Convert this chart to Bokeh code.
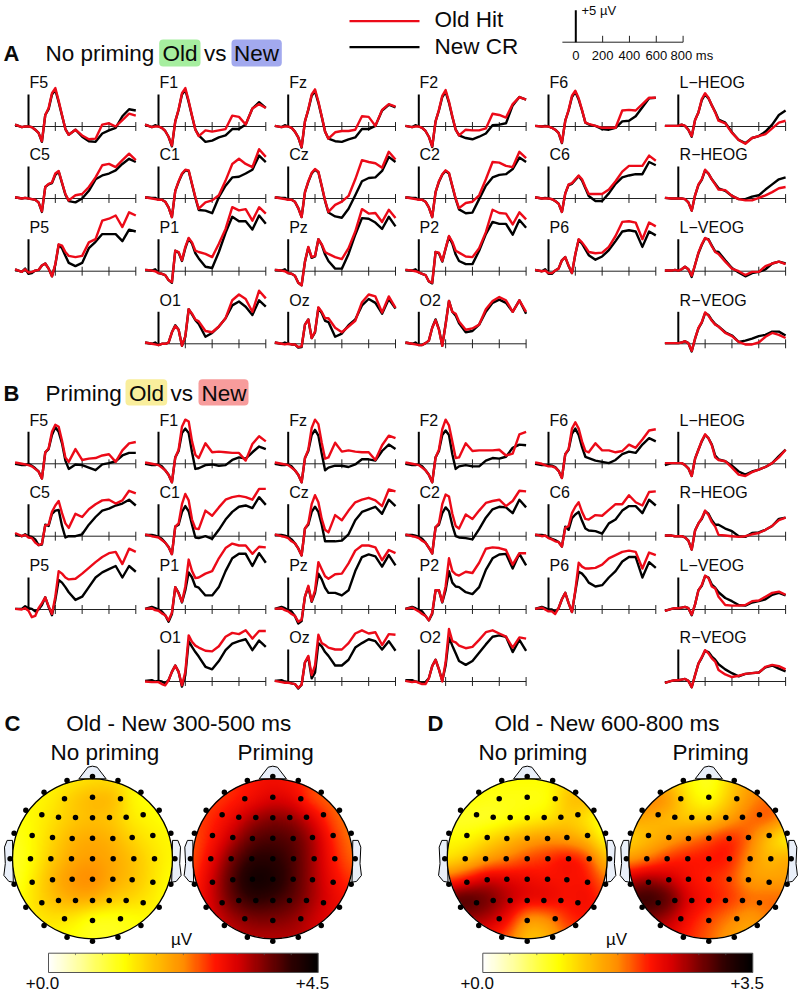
import numpy as np
from bokeh.core.properties import value
from bokeh.embed import file_html
from bokeh.models import BoxAnnotation, LinearColorMapper, Range1d
from bokeh.plotting import figure
from bokeh.resources import INLINE

TIME_MS = [-100,-50,-25,0,25,50,75,100,125,150,175,200,225,250,275,300,350,400,450,500,550,600,650,700,750,800]

# ---------- Panel A, No priming (uV) ----------
A_F5_OLD = [.3,-.1,0,0,-.1,-.5,-1.0,-2.3,1.8,2.9,5.2,6.0, 4.0,1.8,-.4,-1.3, -.5,-1.4,-2.0,-1.9,.3,.5,0,1.0,2.0,1.7]
A_F5_NEW = [.3,-.1,0,0,-.1,-.5,-1.0,-2.4,1.8,2.7,5.0,5.7, 3.8,1.7,-.4,-1.3, -.5,-1.6,-2.3,-2.4,-1.1,-.6,-.2,1.6,2.7,2.5]
A_F1_OLD = [.3,-.1,0,0,-.2,-.7,-1.6,-3.0,.8,2.7,5.2,6.0, 4.0,1.7,-.5,-1.5, -.6,-.8,-.6,-.4,1.7,1.5,.3,2.8,3.5,2.9]
A_F1_NEW = [.3,-.1,.2,0,-.2,-.7,-1.6,-3.1,.8,2.6,5.0,5.7, 3.8,1.6,-.5,-1.4, -2.4,-2.2,-1.7,-1.4,-.4,-.4,.3,2.8,3.8,2.9]
A_FZ_OLD = [.1,-.1,0,0,-.2,-.8,-1.7,-3.2,.8,2.7,5.0,5.8, 3.9,1.6,-.8,-1.9, -.9,-.7,-.7,-.5,1.6,1.5,.1,2.6,3.5,3.1]
A_FZ_NEW = [.1,-.1,.2,0,-.2,-.8,-1.7,-3.3,.8,2.6,4.8,5.5, 3.7,1.5,-.8,-1.9, -2.3,-2.4,-2.0,-1.7,-.4,-.4,.1,2.5,3.4,3.0]
A_F2_OLD = [.1,-.1,0,0,-.2,-.7,-1.6,-3.1,.8,2.6,4.8,5.7, 3.9,1.6,-.5,-1.4, -.5,-.6,-.6,-.3,2.0,1.8,1.4,3.5,4.6,4.2]
A_F2_NEW = [.1,-.1,.2,0,-.2,-.7,-1.6,-3.2,.8,2.5,4.6,5.4, 3.7,1.5,-.5,-1.4, -1.8,-2.0,-1.6,-1.1,.2,.3,.5,3.3,4.6,4.2]
A_F6_OLD = [.1,0,0,0,-.2,-.5,-1.0,-2.5,.9,2.6,4.8,5.6, 4.4,2.6,.6,.4, .1,-.2,-.2,-.2,2.5,2.6,2.5,3.5,4.5,4.5]
A_F6_NEW = [.1,0,.1,0,-.2,-.5,-1.0,-2.6,.9,2.5,4.6,5.4, 4.2,2.5,.6,.3, .1,-.4,-.5,-.2,.8,.9,1.6,3.0,4.4,4.5]
A_LH_OLD = [.1,.1,.1,.1,.3,.1,-.5,-1.5,1.0,2.2,4.3,5.2, 4.5,3.3,2.2,.9, .5,-1.0,-2.1,-2.7,-1.8,-1.5,-1.2,-.3,.6,.9]
A_LH_NEW = [.1,.1,.1,.1,.3,.1,-.5,-1.6,1.0,2.2,4.1,5.0, 4.4,3.3,2.3,1.1, .6,-.9,-2.1,-2.6,-1.8,-1.5,-.8,.3,1.8,2.5]
A_C5_OLD = [.2,0,.1,0,-.1,-.2,-.6,-2.0,1.8,2.3,2.5,3.9, 4.3,2.5,.7,-.3, .5,.7,1.8,3.3,5.2,5.4,4.9,6.0,7.0,6.0]
A_C5_NEW = [.2,0,.1,0,-.1,-.2,-.6,-2.1,1.8,2.2,2.4,3.7, 4.2,2.4,.6,-.4, -.6,0,1.2,3.0,3.6,3.9,4.4,5.4,6.2,5.7]
A_C1_OLD = [.2,0,-.1,-.2,-.2,-.5,-1.4,-2.9,1.2,2.7,3.9,4.5, 4.4,2.3,.2,-1.6, -.6,-.3,.5,2.8,5.4,6.2,5.4,4.9,7.7,6.5]
A_C1_NEW = [.2,.1,.1,-.2,-.2,-.5,-1.4,-2.9,1.2,2.6,3.8,4.4, 4.3,2.2,.1,-1.8, -1.9,-2.3,.2,2.0,3.3,3.4,3.9,4.5,6.7,5.7]
A_CZ_OLD = [.2,0,-.1,-.2,-.2,-.5,-1.5,-2.9,1.0,2.7,4.0,4.6, 4.2,2.0,-.3,-2.1, -1.0,-.5,.4,3.0,6.0,5.7,5.5,4.8,7.3,6.1]
A_CZ_NEW = [.2,.1,.1,-.2,-.2,-.5,-1.5,-2.9,1.0,2.6,3.9,4.5, 4.1,1.9,-.4,-2.2, -2.8,-3.0,-1.6,.5,2.7,3.2,3.3,4.3,6.5,5.7]
A_C2_OLD = [.2,0,-.1,-.2,-.2,-.5,-1.4,-2.9,1.0,2.7,3.8,4.4, 4.0,2.0,0,-1.5, -.7,-.5,.5,3.0,5.7,5.6,5.1,4.9,7.3,6.3]
A_C2_NEW = [.2,.1,.1,-.2,-.2,-.5,-1.4,-2.9,1.0,2.6,3.7,4.3, 3.9,1.9,-.1,-1.7, -2.3,-2.2,-.1,2.0,3.3,3.7,3.8,4.6,6.4,5.7]
A_C6_OLD = [.2,0,0,0,-.1,-.4,-.8,-2.1,.8,2.2,2.4,3.0, 3.6,3.0,1.8,.7, .7,.7,1.4,2.7,4.2,5.1,5.1,5.1,6.7,5.9]
A_C6_NEW = [.2,0,.1,0,-.1,-.4,-.8,-2.1,.8,2.1,2.3,2.9, 3.5,2.8,1.6,.4, -.4,-.4,.8,2.3,3.3,3.6,3.8,3.8,5.7,5.2]
A_RH_OLD = [.1,0,0,0,0,-.1,-.6,-1.9,.5,2.2,3.0,4.5, 3.9,3.0,2.2,1.4, 1.3,.4,-.1,-.3,-.3,.1,.5,1.0,1.6,1.8]
A_RH_NEW = [.1,0,0,0,0,-.1,-.6,-1.9,.5,2.1,2.9,4.4, 3.9,3.0,2.3,1.6, 1.2,.4,-.1,-.1,.3,.5,1.4,2.2,3.0,3.3]
A_P5_OLD = [.3,-.1,.3,-.2,-.1,.1,.2,.9,1.2,.4,-.8,1.1, 4.2,4.0,3.0,2.4, 2.2,2.4,4.5,5.0,7.9,8.2,8.7,6.9,9.2,8.7]
A_P5_NEW = [.3,-.1,.4,-.4,-.3,.1,.2,.9,1.2,.4,-.8,1.0, 4.1,3.6,2.4,1.3, .8,1.3,3.6,4.6,5.8,5.8,5.8,4.7,6.5,6.2]
A_P1_OLD = [.2,.1,0,-.3,-.4,-.6,-1.4,-1.7,3.2,3.0,1.7,3.8, 5.2,4.5,3.2,3.0, 2.7,2.2,4.3,6.6,10.0,9.5,9.7,7.9,10.0,9.0]
A_P1_NEW = [.2,.1,.3,-.3,-.4,-.6,-1.4,-1.8,3.2,2.9,1.6,3.6, 5.1,4.3,2.8,2.0, .7,.5,3.0,6.0,8.5,7.8,7.8,6.5,8.7,7.4]
A_PZ_OLD = [.2,.1,0,-.3,-.4,-.7,-1.8,-2.2,1.5,3.8,2.2,2.4, 5.0,4.2,3.0,2.7, 2.2,1.9,3.6,6.2,9.7,9.0,9.1,7.7,9.6,8.3]
A_PZ_NEW = [.2,.1,.3,-.3,-.4,-.7,-1.8,-2.2,1.5,3.7,2.1,2.3, 5.0,4.1,2.6,1.6, .4,.4,2.7,5.7,8.3,8.2,7.6,6.6,8.5,7.0]
A_P2_OLD = [.2,.1,0,-.2,-.4,-.6,-1.6,-1.8,3.0,2.9,1.6,3.6, 5.5,4.6,3.2,2.9, 2.3,2.2,3.6,6.1,9.6,9.1,9.0,7.3,9.2,8.1]
A_P2_NEW = [.2,.1,.3,-.2,-.4,-.6,-1.6,-1.9,3.0,2.8,1.5,3.5, 5.4,4.3,2.6,1.6, 1.1,1.1,3.2,5.8,7.7,7.4,7.4,5.7,8.0,6.8]
A_P6_OLD = [.2,0,.1,-.3,-.3,.1,.4,1.7,2.2,.9,-.3,2.7, 5.0,4.5,3.8,3.0, 2.8,2.9,3.8,5.5,7.7,7.8,7.6,5.0,7.6,7.0]
A_P6_NEW = [.2,0,.3,-.4,-.4,.1,.4,1.7,2.2,.8,-.3,2.6, 4.9,4.3,3.4,2.5, 1.8,2.3,3.3,4.7,6.2,6.4,6.2,3.8,6.2,5.6]
A_LV_OLD = [.1,.1,.2,.1,.3,.7,.3,-.7,1.0,2.9,4.2,5.2, 4.9,3.9,3.0,2.7, 1.5,.4,0,-.6,-.1,-.1,.8,1.2,1.5,1.1]
A_LV_NEW = [.1,.1,.2,.1,.3,.7,.3,-.9,1.0,2.8,4.1,5.1, 5.0,4.0,3.1,3.0, 1.7,.5,-.2,-.8,-.3,-.1,.3,1.2,1.5,1.2]
A_O1_OLD = [.2,0,-.1,-.2,0,0,.2,1.8,2.8,2.2,-.3,1.2, 5.4,4.7,3.8,3.5, 2.0,1.8,2.7,4.0,6.8,7.7,7.0,5.0,8.3,7.1]
A_O1_NEW = [.2,0,.2,-.2,0,0,.2,1.8,2.9,2.2,-.3,1.1, 5.4,4.6,3.7,3.1, 1.1,1.7,2.7,4.0,6.0,6.6,5.8,4.5,6.8,5.8]
A_OZ_OLD = [.2,0,-.1,0,-.1,-.1,-.5,-.4,3.0,3.8,.9,1.9, 5.7,5.0,4.0,4.0, 2.5,1.8,2.7,3.6,6.5,7.7,7.4,4.9,7.4,5.6]
A_OZ_NEW = [.2,0,.2,0,-.1,-.1,-.6,-.5,3.0,3.8,.9,1.8, 5.6,4.8,3.6,3.4, 1.1,1.6,2.9,3.8,6.0,7.0,6.4,4.7,7.0,5.5]
A_O2_OLD = [.2,0,-.1,-.2,-.2,.1,.5,2.5,3.7,2.2,-.3,3.0, 6.7,5.0,4.7,3.5, 2.2,2.4,3.0,5.4,6.7,7.3,6.8,5.0,6.8,5.0]
A_O2_NEW = [.2,0,.2,-.2,-.2,.1,.5,2.5,3.8,2.3,-.3,3.1, 6.7,5.0,4.4,3.2, 1.8,2.0,3.0,5.0,6.4,6.9,6.4,5.0,6.8,4.7]
A_RV_OLD = [.1,.1,.1,.1,.2,.4,.1,-1.1,.8,2.5,3.4,4.9, 4.4,3.6,3.0,2.7, 1.7,1.2,.3,-.1,-.1,.2,1.1,1.7,1.4,.9]
A_RV_NEW = [.1,.1,.1,.1,.2,.4,.1,-1.2,.8,2.4,3.3,4.8, 4.5,3.7,3.1,2.7, 1.8,1.3,.3,.5,.8,1.2,1.4,1.9,1.9,1.3]

# ---------- Panel B, Priming (uV) ----------
B_F5_OLD = [.2,0,-.1,-.2,-.4,-.8,-1.2,-2.3,1.8,2.4,5.0,6.1, 5.8,3.6,1.0,.3, 2.3,.6,.8,.9,1.3,1.5,.3,2.1,3.2,3.4]
B_F5_NEW = [0,-.2,-.2,0,-.3,-.7,-1.2,-2.3,1.8,2.3,4.5,5.7, 5.0,3.2,.5,-.8, -.1,-.2,-.6,-1.0,-.1,.1,.4,1.3,1.7,1.7]
B_F1_OLD = [.2,0,-.1,-.2,-.6,-1.0,-1.7,-2.9,1.0,2.2,5.8,6.9, 6.6,3.5,1.4,.9, 3.2,1.8,1.9,1.8,1.7,1.7,.5,3.1,4.3,3.5]
B_F1_NEW = [0,-.2,-.2,-.1,-.4,-1.0,-1.7,-2.9,1.0,2.0,4.8,5.5, 4.8,1.8,-.8,-.7, -.2,-.1,-.3,-.2,.6,1.0,.8,1.8,2.7,2.3]
B_FZ_OLD = [.2,0,-.1,-.2,-.6,-1.0,-1.7,-2.9,.9,2.2,5.6,6.9, 6.2,3.3,.8,1.0, 3.3,1.9,2.1,1.9,1.8,1.8,.6,2.9,4.4,4.0]
B_FZ_NEW = [0,-.2,-.2,-.1,-.4,-1.0,-1.7,-2.9,.9,2.0,4.5,5.3, 4.4,1.6,-1.0,-.6, -.3,-.3,-.5,-.1,.7,.7,.5,2.0,3.0,2.3]
B_F2_OLD = [.2,0,-.1,-.2,-.6,-1.0,-1.7,-2.9,1.0,2.2,5.4,6.9, 6.0,3.5,.9,1.0, 3.2,2.0,2.1,2.1,2.1,2.2,1.3,1.6,4.6,5.0]
B_F2_NEW = [0,-.2,-.2,-.1,-.4,-1.0,-1.7,-2.9,1.0,2.0,4.5,5.2, 4.5,1.5,-.8,-.4, -.2,-.4,-.4,.5,.9,.8,1.1,2.5,3.0,2.9]
B_F6_OLD = [.2,0,-.2,-.4,-.4,-.6,-1.1,-2.2,1.5,2.3,5.5,6.5, 5.5,3.5,2.0,1.8, 3.2,2.1,2.1,1.8,2.0,3.0,2.5,3.8,5.2,5.4]
B_F6_NEW = [0,-.2,-.2,-.2,-.3,-.5,-1.1,-2.2,1.5,2.2,4.7,5.5, 4.5,2.6,1.1,.9, .5,.3,.1,.6,1.5,1.9,1.7,3.0,4.0,3.5]
B_LH_OLD = [.1,.1,.1,.1,.1,-.2,-.7,-1.9,.8,2.2,3.6,4.6, 4.0,2.9,1.0,.6, .4,-.6,-1.7,-1.9,-1.3,-.9,-.5,.1,1.0,2.2]
B_LH_NEW = [-.2,.1,.1,.1,.1,-.2,-.7,-1.9,.8,2.2,3.5,4.5, 4.0,3.0,1.3,.7, .4,-.3,-1.2,-1.7,-1.2,-.9,-.5,.1,1.2,2.2]
B_C5_OLD = [.5,0,.2,-.2,-.3,-1.0,-1.4,-1.2,1.7,1.8,3.8,4.8, 5.5,3.6,2.0,1.3, 3.5,3.0,4.2,5.0,5.6,5.7,5.1,5.6,7.1,6.7]
B_C5_NEW = [.3,0,.3,0,-.1,-.5,-1.4,-1.3,1.8,1.6,3.5,4.0, 4.1,1.6,-.2,0, 0,.3,1.8,3.0,4.0,4.3,4.8,5.1,5.7,4.8]
B_C1_OLD = [.3,0,-.1,-.2,-.6,-1.0,-1.7,-2.8,1.5,2.0,5.0,6.6, 5.6,2.6,1.2,1.1, 4.0,3.2,4.5,5.7,6.1,6.3,6.1,5.7,7.4,7.4]
B_C1_NEW = [.2,.2,.1,-.1,-.4,-1.0,-1.7,-2.8,1.5,1.8,3.8,4.7, 3.9,1.8,-.2,-.3, 0,-.4,1.0,2.6,3.8,4.6,4.8,4.4,6.1,4.9]
B_CZ_OLD = [.3,0,-.1,-.3,-.8,-1.1,-1.9,-3.0,1.2,2.0,5.0,6.4, 5.3,2.7,1.0,.6, 3.3,2.5,4.0,5.3,5.7,6.0,5.6,4.7,7.3,7.0]
B_CZ_NEW = [.2,.2,.1,-.1,-.5,-1.1,-1.9,-3.0,1.2,1.8,3.8,4.6, 3.8,1.8,-.8,-.8, -.8,-.7,.3,2.5,3.8,4.2,4.6,3.5,5.7,4.7]
B_C2_OLD = [.3,0,-.1,-.3,-.7,-1.0,-1.8,-2.7,1.4,2.0,5.0,6.5, 6.2,3.5,1.6,1.2, 3.4,2.7,4.0,5.2,5.5,5.7,4.7,5.5,7.1,7.0]
B_C2_NEW = [.2,.2,.1,-.1,-.4,-1.0,-1.8,-2.7,1.4,1.8,3.6,4.5, 3.9,1.7,0,-.2, -.3,-.5,1.1,2.9,4.2,4.6,4.5,3.6,5.7,4.5]
B_C6_OLD = [.3,0,.1,-.3,-.5,-.8,-.9,-1.6,1.3,1.6,3.6,4.6, 5.3,3.8,2.7,2.6, 3.3,3.2,4.1,5.0,5.0,6.4,5.3,4.8,6.9,7.0]
B_C6_NEW = [.2,.2,.1,-.2,-.4,-.6,-.9,-1.6,1.5,1.0,2.8,3.4, 3.8,2.4,1.2,.9, .8,.4,2.0,2.6,4.0,4.7,4.7,3.6,5.7,4.8]
B_RH_OLD = [.1,.1,0,0,0,-.2,-.7,-2.1,.9,2.0,2.8,4.0, 3.3,2.2,1.5,.2, .1,0,-.1,0,.3,.5,1.0,1.6,2.5,2.9]
B_RH_NEW = [.1,.1,0,0,0,-.2,-.7,-2.1,.9,2.0,2.7,3.9, 3.5,2.5,1.8,1.8, 1.2,.8,0,-.1,.5,.6,1.0,1.6,2.7,2.9]
B_P5_OLD = [.1,0,.2,-.2,-1.2,-1.0,.2,1.0,1.9,.5,-.7,2.0, 6.0,5.6,5.0,4.7, 4.8,5.6,6.5,7.4,8.2,8.8,9.0,7.1,9.5,9.0]
B_P5_NEW = [.1,.1,.5,.2,.1,-.3,0,.7,1.9,.4,-.9,1.5, 4.6,4.2,3.5,2.7, 1.5,2.0,3.5,5.0,5.8,6.3,6.8,5.0,6.8,5.9]
B_P1_OLD = [.1,.2,-.1,-.2,-.6,-.9,-1.7,-.5,3.5,2.5,1.2,3.6, 7.8,6.0,4.9,5.0, 5.6,6.0,8.0,9.6,10.3,10.0,10.0,8.7,9.8,9.7]
B_P1_NEW = [.1,.4,.2,0,-.3,-.9,-1.9,-.7,3.5,2.6,1.1,3.0, 5.8,5.0,3.6,3.4, 2.2,2.2,3.5,6.0,8.0,8.7,8.7,6.8,8.8,7.3]
B_PZ_OLD = [.1,.2,-.1,-.3,-.7,-1.0,-1.9,-1.6,2.0,3.7,1.3,3.0, 7.4,6.3,5.2,4.8, 5.5,5.6,7.2,9.2,10.0,10.0,9.7,7.7,9.3,8.8]
B_PZ_NEW = [.1,.4,.2,-.1,-.3,-1.0,-2.2,-1.8,2.0,3.5,1.2,2.6, 5.6,4.7,3.4,2.6, 2.6,2.2,3.0,6.0,8.2,8.6,8.3,6.7,8.5,6.9]
B_P2_OLD = [.1,.3,0,-.3,-.7,-1.0,-1.7,-.5,3.0,3.0,1.2,3.6, 8.0,6.0,5.5,5.3, 5.9,5.7,7.3,9.5,9.7,9.6,9.3,7.0,8.8,8.8]
B_P2_NEW = [.1,.4,.2,-.1,-.3,-1.0,-1.7,-.7,3.0,3.0,1.1,3.0, 6.0,4.2,3.6,3.5, 2.7,2.4,3.5,6.2,8.0,8.6,8.7,6.4,8.7,6.9]
B_P6_OLD = [.1,.3,0,-.3,-.3,-.7,.2,1.6,2.6,1.0,-.4,3.0, 7.3,6.7,6.4,6.4, 6.5,7.0,8.0,8.5,9.0,9.2,9.0,6.4,8.9,8.5]
B_P6_NEW = [.1,.4,.2,0,0,-.4,.2,1.6,2.6,1.0,-.4,2.8, 5.9,5.6,5.0,4.2, 3.6,3.8,5.0,6.0,7.5,8.2,8.2,5.0,7.4,6.5]
B_LV_OLD = [-.2,.1,.2,.2,.3,.4,.2,-.8,.8,3.0,3.8,5.3, 4.9,3.6,3.3,2.0, .7,.6,.6,.7,1.3,1.4,2.0,2.6,2.8,2.3]
B_LV_NEW = [-.2,.1,.2,.2,.3,.4,.2,-.9,.8,3.0,3.7,5.2, 5.0,3.9,3.4,2.7, 1.8,1.3,.7,.6,1.1,1.3,1.6,2.3,2.6,2.2]
B_O1_OLD = [0,-.1,-.1,-.1,-.4,-.6,.2,1.5,2.5,1.5,-.6,1.5, 7.2,6.2,5.6,5.3, 4.8,4.7,5.5,7.0,7.6,7.4,8.0,6.7,7.9,7.9]
B_O1_NEW = [.1,.2,0,.1,0,-.3,.2,1.5,2.5,1.5,-.8,1.0, 6.3,5.4,4.6,3.9, 2.3,1.9,3.2,4.9,5.9,6.3,6.6,4.9,6.4,5.4]
B_OZ_OLD = [.1,-.1,-.2,-.2,-.3,-.4,-1.0,-.5,3.0,4.0,1.0,2.5, 7.3,6.0,5.7,5.3, 5.0,5.0,6.0,7.5,8.0,7.5,7.7,5.7,7.4,7.3]
B_OZ_NEW = [.1,.2,0,-.1,-.3,-.4,-1.1,-.5,3.0,3.8,.5,1.4, 6.0,5.5,4.6,4.0, 2.5,2.5,3.4,5.3,6.0,6.6,6.3,5.0,6.3,4.8]
B_O2_OLD = [.1,-.1,0,-.2,-.4,-.4,.5,2.4,3.4,1.9,0,3.0, 8.2,6.3,6.1,5.6, 5.2,5.4,6.5,7.7,8.0,7.5,7.0,5.3,6.9,6.7]
B_O2_NEW = [.2,.2,0,-.1,-.2,-.1,.5,2.4,3.4,1.9,.1,2.5, 6.9,5.6,4.4,3.2, 2.6,3.2,4.5,5.8,7.0,7.2,7.0,4.6,6.5,4.8]
B_RV_OLD = [-.2,.1,.2,.2,.3,.4,.1,-.9,1.0,2.8,3.8,4.9, 4.4,3.6,3.1,1.8, 1.1,.7,.9,1.2,1.3,1.4,2.3,2.6,2.4,1.9]
B_RV_NEW = [-.2,.1,.2,.2,.3,.4,.1,-.9,1.0,2.8,3.7,4.8, 4.6,3.9,3.4,2.7, 1.9,1.3,.8,1.2,1.3,1.4,2.2,2.5,2.0,1.6]

# ---------- Scalp maps (uV); rows from front (+1) to back (-1), columns left (-1) to right (+1) ----------
C_NOPRIME = [
 [1.3,1.3,1.3,1.4,1.5,1.5,1.3,1.3,1.3],
 [1.3,1.3,1.4,1.7,1.9,1.9,1.3,1.2,1.2],
 [1.2,1.3,1.5,1.7,1.8,1.7,1.4,1.3,1.2],
 [1.1,1.3,1.6,1.9,2.0,1.9,1.6,1.4,1.3],
 [1.0,1.3,1.7,2.0,2.1,2.0,1.8,1.5,1.3],
 [1.0,1.4,1.9,2.2,2.3,2.0,1.8,1.5,1.2],
 [1.1,1.5,1.8,2.0,2.0,1.7,1.6,1.4,1.2],
 [1.2,1.4,1.5,1.4,1.1,1.1,1.2,1.3,1.3],
 [1.3,1.3,1.3,1.2,1.1,1.1,1.2,1.3,1.3]]
C_PRIME = [
 [2.7,2.7,2.7,2.8,2.9,2.8,2.6,2.5,2.5],
 [2.6,2.6,2.7,2.9,3.1,3.0,2.5,2.4,2.4],
 [2.6,2.7,3.0,3.4,3.6,3.5,3.1,2.5,2.3],
 [2.5,2.8,3.3,3.8,3.9,3.8,3.4,2.7,2.3],
 [2.5,3.0,3.7,4.1,4.1,3.9,3.4,2.8,2.4],
 [2.6,3.2,3.9,4.4,4.3,3.9,3.4,2.9,2.6],
 [2.7,3.2,3.8,4.1,4.0,3.8,3.4,3.0,2.8],
 [2.8,3.1,3.4,3.6,3.6,3.5,3.2,3.0,2.9],
 [3.0,3.0,3.2,3.3,3.3,3.3,3.2,3.0,3.0]]
D_NOPRIME = [
 [1.0,1.0,1.0,1.0,1.0,1.0,1.2,1.2,1.0],
 [1.0,1.0,.9,.9,.9,.9,1.4,1.5,1.0],
 [.8,.8,.8,.9,1.0,1.1,1.3,1.1,.8],
 [1.0,1.0,1.2,1.4,1.6,1.7,1.6,1.4,.9],
 [1.1,1.3,1.6,1.8,2.0,2.1,2.3,2.1,1.3],
 [1.9,2.2,2.5,2.4,2.3,2.2,2.2,2.2,1.8],
 [3.0,3.1,2.9,2.6,2.4,2.4,2.2,2.3,2.0],
 [2.8,2.7,2.6,2.3,1.6,1.7,2.1,2.2,2.0],
 [2.2,2.2,2.2,1.9,1.3,1.4,1.9,2.0,2.0]]
D_PRIME = [
 [1.6,1.6,1.3,1.0,.8,1.2,1.6,1.7,1.7],
 [1.9,1.9,1.7,1.1,.9,1.3,1.7,1.9,1.9],
 [1.6,1.5,1.4,1.3,1.3,1.6,1.9,2.0,1.6],
 [1.2,1.4,1.6,1.8,2.0,2.2,1.9,1.3,.9],
 [1.6,1.8,2.1,2.2,2.2,2.2,1.7,1.4,1.6],
 [2.5,2.7,2.5,2.2,2.1,2.0,1.6,1.6,1.6],
 [3.1,3.2,3.0,2.4,2.2,2.1,1.9,1.9,1.9],
 [2.8,2.8,2.6,2.2,2.0,1.8,1.6,1.8,2.0],
 [2.4,2.4,2.3,2.1,1.9,1.6,1.5,1.7,1.8]]

ELEC_X = [-84,0,84, -152,-102,-51,0,51,101,152, -181,-120,-61,0,61,119,181, -186,-125,-63,0,62,124,186,
          -181,-120,-61,0,61,119,181, -152,-102,-51,0,50,101,152, -84,0,84]
ELEC_Y = [180,185,180, 132,125,124,123,124,125,132, 70,64,61,62,61,64,70, 0,0,0,0,0,0,0,
          -70,-63,-61,-61,-61,-63,-70, -132,-125,-125,-125,-125,-125,-132, -180,-185,-180]
RING_ANGLES = list(range(0, 360, 18))

CHANNELS = {0: ["F5","C5","P5",None], 1: ["F1","C1","P1","O1"], 2: ["Fz","Cz","Pz","Oz"],
            3: ["F2","C2","P2","O2"], 4: ["F6","C6","P6",None],
            5: ["L\u2212HEOG","R\u2212HEOG","L\u2212VEOG","R\u2212VEOG"]}
KEY = {"L\u2212HEOG":"LH","R\u2212HEOG":"RH","L\u2212VEOG":"LV","R\u2212VEOG":"RV"}

# ---------- page layout (picture pixels) ----------
FONT = value("Liberation Sans")
RED, BLACK = "#ec0a18", "#000000"
COL_ZERO = [28, 158, 287.7, 418.3, 548, 677.8]
ROW_ZERO_A = [126, 198, 270.7, 343.3]
ROW_ZERO_B = [463.3, 535.7, 609, 681]
LABEL_DX = [1, 1, 1, .7, 1, 1.3]
MS_PER_PX = 800 / 107.3
UV_PER_PX = 5 / 32
W, H = 800, 992

p = figure(width=W, height=H, x_range=Range1d(0, W), y_range=Range1d(H, 0),
           output_backend="svg", toolbar_location=None, min_border=0,
           outline_line_color=None, background_fill_color="white", border_fill_color="white")
p.xaxis.visible = False
p.yaxis.visible = False
p.grid.visible = False
p.xaxis.ticker = []
p.yaxis.ticker = []

def x_name(px0, scale, key):
    name = f"x_{key}"
    if name not in p.extra_x_ranges:
        p.extra_x_ranges[name] = Range1d((0 - px0) * scale, (W - px0) * scale)
    return name

def y_name(py0, scale, key):
    name = f"y_{key}"
    if name not in p.extra_y_ranges:
        p.extra_y_ranges[name] = Range1d((py0 - H) * scale, (py0 - 0) * scale)
    return name

def text(x, y, s, size, bold=False, align="left", color="#0a0a0a"):
    p.text(x=[x], y=[y], text=[s], text_font=FONT, text_font_size=f"{size}px",
           text_font_style="bold" if bold else "normal", text_align=align,
           text_baseline="middle", text_color=color)

def draw_axes(xr, yr, ticks, lo, hi):
    p.line([-100, 800], [0, 0], line_color="#222222", line_width=1, x_range_name=xr, y_range_name=yr)
    p.segment(x0=ticks, x1=ticks, y0=[lo] * len(ticks), y1=[hi] * len(ticks),
              line_color="#222222", line_width=1, x_range_name=xr, y_range_name=yr)
    p.line([0, 0], [0, 5], line_color="#000000", line_width=2, x_range_name=xr, y_range_name=yr)

# ---------- highlight boxes ----------
for left, right, top, bottom, color in [(158.7, 200, 39, 66, "#a6ee9f"), (231, 281.3, 39, 66, "#a2a9ee"),
                                        (125, 166.7, 378.7, 405, "#f9ee9c"), (198, 248, 378.7, 405, "#f79c9c")]:
    p.add_layout(BoxAnnotation(left=left, right=right, top=top, bottom=bottom, fill_color=color,
                               fill_alpha=1, line_color=None, border_radius=4, level="underlay"))

# ---------- waveform panels ----------
for prefix, zeros in (("A", ROW_ZERO_A), ("B", ROW_ZERO_B)):
    for c, names in CHANNELS.items():
        xr = x_name(COL_ZERO[c], MS_PER_PX, f"col{c}")
        for r, name in enumerate(names):
            if name is None:
                continue
            yr = y_name(zeros[r], UV_PER_PX, f"{prefix}{r}")
            key = KEY.get(name, name.upper())
            old = globals()[f"{prefix}_{key}_OLD"]
            new = globals()[f"{prefix}_{key}_NEW"]
            assert len(old) == len(TIME_MS) and len(new) == len(TIME_MS), (prefix, key, len(old), len(new))
            draw_axes(xr, yr, [200, 400, 600, 800], -.7, .7)
            p.line(TIME_MS, new, line_color=BLACK, line_width=2.4, line_join="round", x_range_name=xr, y_range_name=yr)
            p.line(TIME_MS, old, line_color=RED, line_width=2.4, line_join="round", x_range_name=xr, y_range_name=yr)
            text(COL_ZERO[c] + LABEL_DX[c], zeros[r] - 43.7, name, 16)

# ---------- scale key and legend ----------
kx = x_name(575.3, MS_PER_PX, "key")
ky = y_name(41.7, UV_PER_PX, "key")
draw_axes(kx, ky, [200, 400, 600, 800], 0, 1)
text(581, 10, "+5 \u00b5V", 13)
for t, s in zip([0, 200, 400, 600], ["0", "200", "400", "600"]):
    text(575.3 + t / MS_PER_PX, 55, s, 13, align="center")
text(670, 55, "800 ms", 13)
p.line([349, 419], [20.7, 20.7], line_color=RED, line_width=2.2)
p.line([349, 419], [46.7, 46.7], line_color=BLACK, line_width=2.2)
text(434, 19, "Old Hit", 22.5)
text(434, 46, "New CR", 22.5)

# ---------- section titles ----------
text(3, 53, "A", 22, bold=True)
text(45, 53, "No priming", 22.5)
text(162, 53, "Old", 22.5)
text(203.5, 53, "vs", 22.5)
text(233.5, 53, "New", 22.5)
text(3, 392.7, "B", 22, bold=True)
text(45, 392.7, "Priming", 22.5)
text(128.5, 392.7, "Old", 22.5)
text(170, 392.7, "vs", 22.5)
text(201, 392.7, "New", 22.5)
text(4, 723, "C", 22, bold=True)
text(65.7, 723, "Old - New 300-500 ms", 22.5)
text(50, 751.7, "No priming", 22.5)
text(237, 751.7, "Priming", 22.5)
text(427, 723, "D", 22, bold=True)
text(494, 723, "Old - New 600-800 ms", 22.5)
text(478, 751.7, "No priming", 22.5)
text(672, 751.7, "Priming", 22.5)

# ---------- colour scale ----------
STOP_POS = [0, .1, .2, .28, .35, .42, .5, .62, .7, .8, .9, 1]
STOP_RGB = [(255,255,255), (255,255,170), (255,255,70), (255,255,0), (255,216,0), (255,180,0), (255,140,0),
            (255,20,0), (215,0,0), (125,0,0), (45,0,0), (0,0,0)]
levels = np.linspace(0, 1, 256)
palette = ["#%02x%02x%02x" % tuple(int(round(np.interp(l, STOP_POS, [s[k] for s in STOP_RGB]))) for k in range(3))
           for l in levels]

def smooth_map(grid, n=321, box=31):
    g = np.array(grid, dtype=float)[::-1]
    src = np.linspace(-1, 1, g.shape[0])
    dst = np.linspace(-1, 1, n)
    g = np.array([np.interp(dst, src, row) for row in g])
    g = np.array([np.interp(dst, src, col) for col in g.T]).T
    kernel = np.ones(box) / box
    for _ in range(2):
        pad = np.pad(g, ((0, 0), (box // 2, box // 2)), mode="edge")
        g = np.array([np.convolve(row, kernel, mode="valid") for row in pad])
        pad = np.pad(g, ((box // 2, box // 2), (0, 0)), mode="edge")
        g = np.array([np.convolve(col, kernel, mode="valid") for col in pad.T]).T
    xx, yy = np.meshgrid(dst, dst)
    g[xx ** 2 + yy ** 2 > 1.0] = np.nan
    return g

NOSE_X = [-.17, -.058, 0, .058, .17]
NOSE_Y = [1.0, 1.145, 1.158, 1.145, 1.0]
EAR_X = [-1.0, -1.067, -1.1, -1.09, -1.108, -1.046, -.99]
EAR_Y = [.23, .23, .146, -.06, -.208, -.283, -.292]

def head(cx, cy, grid, vmax, key):
    xr = x_name(cx, 1 / 80, f"h{key}")
    yr = y_name(cy, 1 / 80, f"h{key}")
    kw = dict(x_range_name=xr, y_range_name=yr)
    ear_fill = "#e9eff9"
    p.patch(NOSE_X, NOSE_Y, fill_color=ear_fill, line_color="black", line_width=1, **kw)
    p.patch(EAR_X, EAR_Y, fill_color=ear_fill, line_color="black", line_width=1, **kw)
    p.patch([-v for v in EAR_X], EAR_Y, fill_color=ear_fill, line_color="black", line_width=1, **kw)
    mapper = LinearColorMapper(palette=palette, low=0, high=vmax, nan_color="#00000000")
    p.image(image=[smooth_map(grid)], x=-1, y=-1, dw=2, dh=2, color_mapper=mapper, **kw)
    p.ellipse(x=[0], y=[0], width=2, height=2, fill_color=None, line_color="black", line_width=1.3, **kw)
    p.scatter(np.array(ELEC_X) / 240, np.array(ELEC_Y) / 240, size=5.5, marker="circle",
              fill_color="black", line_color="black", line_width=0, **kw)
    ang = np.deg2rad(RING_ANGLES)
    p.scatter(1.03 * np.cos(ang), 1.03 * np.sin(ang), size=5.5, marker="circle",
              fill_color="black", line_color="black", line_width=0, **kw)

head(92, 858.3, C_NOPRIME, 4.5, "c0")
head(272.3, 858.3, C_PRIME, 4.5, "c1")
head(526.7, 858.3, D_NOPRIME, 3.5, "d0")
head(708.3, 858.3, D_PRIME, 3.5, "d1")

def colorbar(left, right, vmax, key):
    scale = vmax / (right - left)
    xr = x_name(left, scale, f"bar{key}")
    yr = y_name(972, 1 / 19.3, f"bar{key}")
    kw = dict(x_range_name=xr, y_range_name=yr)
    mapper = LinearColorMapper(palette=palette, low=0, high=vmax)
    p.image(image=[np.linspace(0, vmax, 256).reshape(1, -1)], x=0, y=0, dw=vmax, dh=1, color_mapper=mapper, **kw)
    ticks = [vmax * i / 10 for i in range(1, 10)]
    p.segment(x0=ticks, x1=ticks, y0=[.9] * 9, y1=[1] * 9, line_color="#555555", line_width=.7, **kw)
    p.quad(left=[0], right=[vmax], bottom=[0], top=[1], fill_color=None, line_color="#555555", line_width=1, **kw)

colorbar(48, 317.7, 4.5, "c")
colorbar(482.3, 752.3, 3.5, "d")
text(181, 939, "\u00b5V", 17, align="center")
text(42, 982, "+0.0", 17, align="center")
text(312, 982, "+4.5", 17, align="center")
text(616, 939, "\u00b5V", 17, align="center")
text(476.7, 982, "+0.0", 17, align="center")
text(746.7, 982, "+3.5", 17, align="center")

open("out.html", "w").write(file_html(p, INLINE))
